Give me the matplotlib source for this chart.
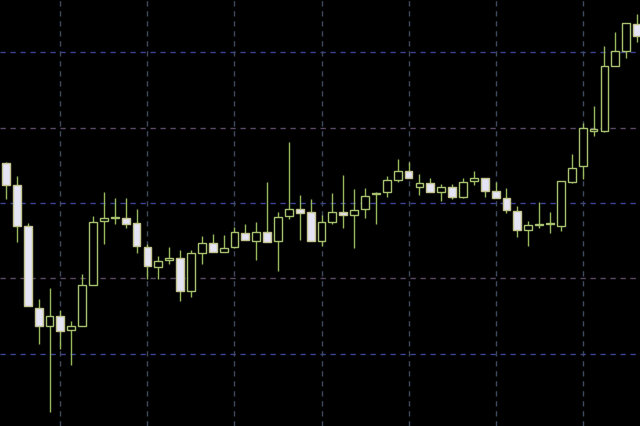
import matplotlib
matplotlib.use("Agg")
import matplotlib.pyplot as plt
import numpy as np

plt.rcParams['lines.scale_dashes'] = False

# OHLC values (price units)
opens = [263, 241, 200, 118, 100, 110, 96, 100, 141, 205, 208, 208, 203, 179, 159, 166, 168, 135, 173, 183,
         174, 179, 193, 185, 194, 185, 210, 217, 214, 185, 204, 214, 211, 217, 232, 234, 246, 255, 239, 243,
         234, 239, 229, 245, 248, 235, 228, 215, 196, 201, 202, 200, 244, 260, 295, 295, 360, 375, 402]
highs = [264, 250, 203, 127, 138, 116, 105, 152, 210, 234, 228, 228, 217, 182, 170, 179, 176, 176, 190, 192,
         191, 199, 202, 204, 244, 214, 284, 231, 227, 211, 233, 251, 237, 238, 234, 250, 267, 264, 252, 248,
         242, 242, 248, 255, 248, 244, 238, 220, 205, 224, 214, 245, 272, 303, 320, 380, 394, 403, 412]
lows = [227, 184, 120, 82, 14, 77, 61, 100, 141, 182, 202, 198, 173, 147, 147, 162, 125, 129, 162, 174,
        174, 178, 186, 166, 184, 155, 207, 186, 185, 180, 202, 198, 178, 208, 202, 229, 244, 248, 231, 234,
        225, 227, 228, 241, 229, 228, 213, 189, 180, 198, 193, 195, 243, 247, 290, 294, 360, 368, 384]
closes = [241, 200, 120, 100, 110, 95, 100, 141, 204, 208, 209, 202, 180, 160, 165, 168, 135, 173, 183, 174,
          178, 194, 186, 194, 184, 209, 217, 213, 185, 204, 214, 211, 216, 230, 232, 246, 255, 248, 243, 234,
          239, 229, 244, 248, 235, 228, 216, 196, 201, 201, 202, 245, 258, 298, 297, 360, 375, 403, 390]

h_grid = [374, 298, 223, 148, 72]
h_grid_colors = ['#3c4290', '#5a4a68', '#3c4496', '#5a4a68', '#3c4496']
v_grid = [5, 13, 21, 29, 37, 45, 53]

o = np.array(opens, float)
h = np.array(highs, float)
l = np.array(lows, float)
c = np.array(closes, float)
x = np.arange(len(o))
bull = c >= o

fig = plt.figure(figsize=(6.4, 4.27), dpi=100, facecolor='black')
ax = fig.add_axes([0, 0, 1, 1])
ax.set_facecolor('black')

for yv, col in zip(h_grid, h_grid_colors):
    ax.axhline(yv, color=col, lw=1.0, dashes=(3.8, 3.4), zorder=1)
for xv in v_grid:
    ax.axvline(xv, color='#3e4a5e', lw=1.0, dashes=(3.8, 3.4), zorder=1)

wick_col = '#98b85c'
ax.vlines(x, l, h, color=wick_col, lw=1.0, zorder=2)

bottoms = np.minimum(o, c)
heights = np.abs(c - o)
heights = np.where(heights < 0.6, 0.6, heights)
w = 0.72
ax.bar(x[bull], heights[bull], bottom=bottoms[bull], width=w,
       facecolor='black', edgecolor='#a8c270', linewidth=1.0, zorder=3)
ax.bar(x[~bull], heights[~bull], bottom=bottoms[~bull], width=w,
       facecolor='#e4e4f4', edgecolor='#c4c490', linewidth=1.0, zorder=3)

ax.set_xlim(-0.55, 58.27)
ax.set_ylim(0, 427)
ax.axis('off')

fig.savefig('out.png', dpi=100, facecolor='black')
